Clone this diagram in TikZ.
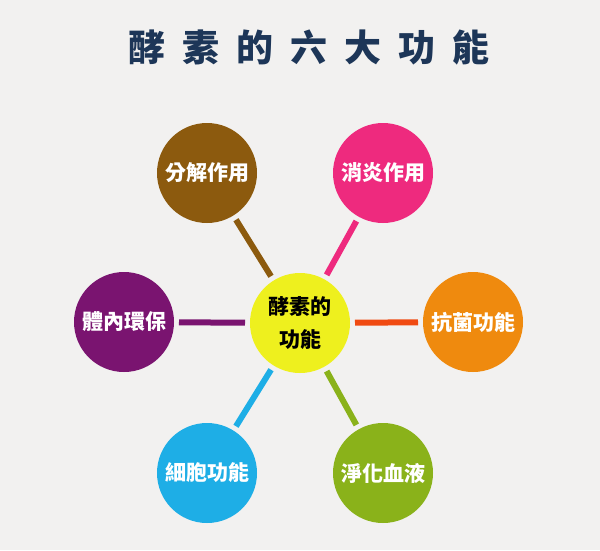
\documentclass[tikz,border=0pt]{standalone}
\usepackage{fontspec}
\setmainfont{Noto Sans CJK TC}
\usepackage{xcolor}
\definecolor{bgGrey}{HTML}{F2F1F0}
\definecolor{titleNavy}{HTML}{1D3658}
\definecolor{hubYellow}{HTML}{EEF01E}
\definecolor{fnBrown}{HTML}{8C5A0E}
\definecolor{fnPink}{HTML}{EE2A7E}
\definecolor{fnPurple}{HTML}{7A1470}
\definecolor{fnOrange}{HTML}{EF8A0E}
\definecolor{lnOrange}{HTML}{F04A12}
\definecolor{fnCyan}{HTML}{1EAEE6}
\definecolor{fnGreen}{HTML}{8AB21A}
\usetikzlibrary{calc}

\tikzset{
  bubble/.style={circle, fill=#1, minimum size=100pt, inner sep=0pt, outer sep=0pt,
    text=white, font=\fontsize{21}{24}\selectfont\bfseries},
  spoke/.style={line width=6pt, #1, shorten <=5pt, shorten >=5pt},
}

\begin{document}
\begin{tikzpicture}[x=1pt, y=-1pt]
  \fill[bgGrey] (0,0) rectangle (600,550);
  \useasboundingbox (0,0) rectangle (600,550);
  % ---- title ----
  \node[text=titleNavy, font=\fontsize{37}{40}\selectfont\bfseries\addfontfeature{LetterSpace=46}]
    (title) at (309,48) {酵素的六大功能};
  % ---- hub ----
  \node[bubble=hubYellow, text=black, align=center, font=\fontsize{21}{33}\selectfont\bfseries]
    (hub) at (300,323) {酵素的\\功能};
  % ---- six functions ----
  \node[bubble=fnBrown]  (decomp)  at (207,173) {分解作用};
  \node[bubble=fnPink]   (antiinf) at (383,173) {消炎作用};
  \node[bubble=fnPurple] (detox)   at (124,322) {體內環保};
  \node[bubble=fnOrange] (antibac) at (473,322) {抗菌功能};
  \node[bubble=fnCyan]   (cell)    at (207,473) {細胞功能};
  \node[bubble=fnGreen]  (blood)   at (383,473) {淨化血液};
  % ---- spokes ----
  \draw[spoke=fnBrown]   (decomp)  -- (hub);
  \draw[spoke=fnPink]    (antiinf) -- (hub);
  \draw[spoke=fnPurple]  (detox)   -- (hub);
  \draw[spoke=lnOrange]  (antibac) -- (hub);
  \draw[spoke=fnCyan]    (cell)    -- (hub);
  \draw[spoke=fnGreen]   (blood)   -- (hub);
\end{tikzpicture}
\end{document}
